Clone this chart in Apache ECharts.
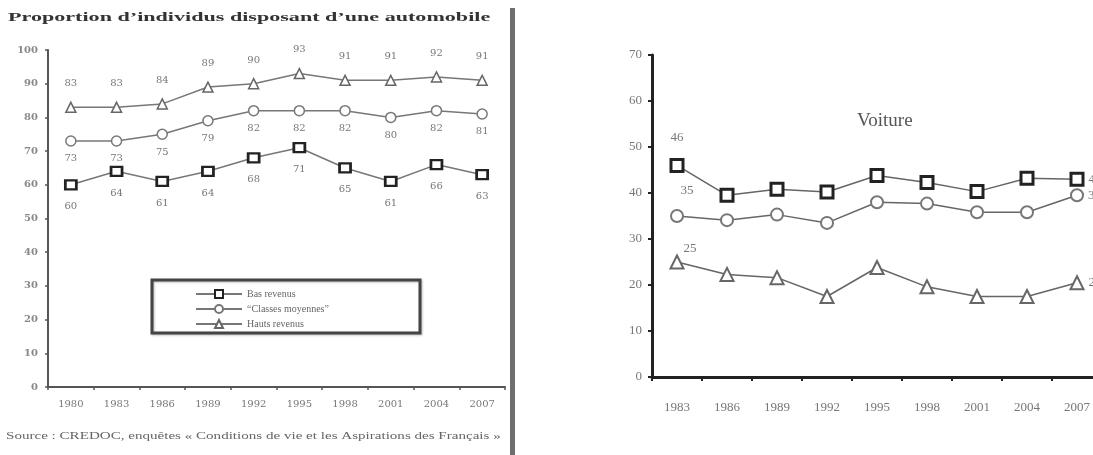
<!DOCTYPE html>
<html>
<head>
<meta charset="utf-8">
<script src="https://cdn.jsdelivr.net/npm/echarts@6/dist/echarts.min.js"></script>
<style>
  html, body { margin: 0; padding: 0; background: #fff; overflow: hidden; width: 1093px; height: 455px; }
  /* the right panel runs past the window edge, as on the printed page */
  #chart { width: 1102px; height: 455px; }
</style>
</head>
<body>
<div id="chart"></div>
<script>
// Left panel: share of individuals owning a car, by income group
const yearsLeft = ['1980', '1983', '1986', '1989', '1992', '1995', '1998', '2001', '2004', '2007'];
const basRevenus = [60, 64, 61, 64, 68, 71, 65, 61, 66, 63];
const classesMoyennes = [73, 73, 75, 79, 82, 82, 82, 80, 82, 81];
const hautsRevenus = [83, 83, 84, 89, 90, 93, 91, 91, 92, 91];
const leftTicks = { min: 0, max: 100, interval: 10 };

// Right panel: "Voiture"
const yearsRight = ['1983', '1986', '1989', '1992', '1995', '1998', '2001', '2004', '2007'];
const voitureCarres = [46, 39.5, 40.8, 40.2, 43.8, 42.3, 40.3, 43.2, 43];
const voitureCercles = [35, 34.1, 35.3, 33.5, 38, 37.7, 35.8, 35.8, 39.5];
const voitureTriangles = [25, 22.3, 21.6, 17.5, 23.8, 19.6, 17.5, 17.5, 20.5];
const rightTicks = { min: 0, max: 70, interval: 10 };

const names = ['Bas revenus', '\u201CClasses moyennes\u201D', 'Hauts revenus'];
const SERIF = '"Liberation Serif", "DejaVu Serif", serif';
const WIDE = '"DejaVu Serif", serif';

// Only the first and last points of the right panel carry a value label
function endLabels(values, firstOffset) {
  return values.map((v, i) => {
    if (i === 0) {
      return { value: v, label: { show: true, position: 'top', offset: firstOffset } };
    }
    if (i === values.length - 1) {
      return { value: v, label: { show: true, position: 'right', distance: 4 } };
    }
    return v;
  });
}

const leftLabel = (pos, dist) => ({
  show: true, position: pos, distance: dist,
  fontFamily: WIDE, fontSize: 10, color: '#777'
});
const rightLabel = { fontFamily: SERIF, fontSize: 13, color: '#777' };

const chart = echarts.init(document.getElementById('chart'));
chart.setOption({
  backgroundColor: '#fff',
  animation: false,
  grid: [
    { left: 48, top: 50, width: 457, height: 337 },
    { left: 652, top: 55, width: 450, height: 322 }
  ],
  xAxis: [
    {
      type: 'category', gridIndex: 0, data: yearsLeft, boundaryGap: true,
      axisLine: { lineStyle: { color: '#555', width: 2 } },
      axisTick: { show: true, length: 3, lineStyle: { color: '#555', width: 1.5 } },
      axisLabel: { margin: 12, fontFamily: WIDE, fontSize: 10, color: '#777' }
    },
    {
      type: 'category', gridIndex: 1, data: yearsRight, boundaryGap: true,
      axisLine: { lineStyle: { color: '#222', width: 3 } },
      axisTick: { show: true, length: 4, lineStyle: { color: '#222', width: 2 } },
      axisLabel: { margin: 24, fontFamily: SERIF, fontSize: 13, color: '#777' }
    }
  ],
  yAxis: [
    {
      type: 'value', gridIndex: 0, min: leftTicks.min, max: leftTicks.max, interval: leftTicks.interval,
      splitLine: { show: false },
      axisLine: { show: true, lineStyle: { color: '#555', width: 2 } },
      axisTick: { show: true, length: 3, lineStyle: { color: '#555', width: 1.5 } },
      axisLabel: { margin: 10, fontFamily: WIDE, fontSize: 10, fontWeight: 'bold', color: '#888' }
    },
    {
      type: 'value', gridIndex: 1, min: rightTicks.min, max: rightTicks.max, interval: rightTicks.interval,
      splitLine: { show: false },
      axisLine: { show: true, lineStyle: { color: '#222', width: 3 } },
      axisTick: { show: true, length: 4, lineStyle: { color: '#222', width: 2 } },
      axisLabel: { margin: 10, fontFamily: SERIF, fontSize: 13, color: '#777' }
    }
  ],
  legend: {
    data: names,
    orient: 'vertical',
    left: 190, top: 284,
    itemWidth: 46, itemHeight: 10, itemGap: 5,
    textStyle: { fontFamily: SERIF, fontSize: 10, color: '#666' },
    selectedMode: false
  },
  series: [
    {
      name: names[0], type: 'line', xAxisIndex: 0, yAxisIndex: 0, data: basRevenus,
      symbol: 'rect', symbolSize: [11, 9], showAllSymbol: true,
      lineStyle: { color: '#777', width: 1.5 },
      itemStyle: { color: '#fff', borderColor: '#222', borderWidth: 2.5 },
      label: leftLabel('bottom', 11)
    },
    {
      name: names[1], type: 'line', xAxisIndex: 0, yAxisIndex: 0, data: classesMoyennes,
      symbol: 'circle', symbolSize: 10, showAllSymbol: true,
      lineStyle: { color: '#777', width: 1.5 },
      itemStyle: { color: '#fff', borderColor: '#777', borderWidth: 1.5 },
      label: leftLabel('bottom', 7)
    },
    {
      name: names[2], type: 'line', xAxisIndex: 0, yAxisIndex: 0, data: hautsRevenus,
      symbol: 'triangle', symbolSize: 10, showAllSymbol: true,
      lineStyle: { color: '#777', width: 1.5 },
      itemStyle: { color: '#fff', borderColor: '#666', borderWidth: 1.5 },
      label: leftLabel('top', 13)
    },
    {
      name: 'Voiture (carrés)', type: 'line', xAxisIndex: 1, yAxisIndex: 1,
      data: endLabels(voitureCarres, [0, -9]),
      symbol: 'rect', symbolSize: 12, showAllSymbol: true,
      lineStyle: { color: '#666', width: 1.5 },
      itemStyle: { color: '#fff', borderColor: '#222', borderWidth: 3 },
      label: rightLabel
    },
    {
      name: 'Voiture (cercles)', type: 'line', xAxisIndex: 1, yAxisIndex: 1,
      data: endLabels(voitureCercles, [10, -7]),
      symbol: 'circle', symbolSize: 12, showAllSymbol: true,
      lineStyle: { color: '#666', width: 1.5 },
      itemStyle: { color: '#fff', borderColor: '#777', borderWidth: 2 },
      label: rightLabel
    },
    {
      name: 'Voiture (triangles)', type: 'line', xAxisIndex: 1, yAxisIndex: 1,
      data: endLabels(voitureTriangles, [13, 6]),
      symbol: 'triangle', symbolSize: 13, showAllSymbol: true,
      lineStyle: { color: '#666', width: 1.5 },
      itemStyle: { color: '#fff', borderColor: '#666', borderWidth: 2 },
      label: rightLabel
    }
  ],
  graphic: [
    // left panel heading
    {
      type: 'text', x: 8, y: 11, scaleX: 1.7, scaleY: 1,
      style: {
        text: 'Proportion d\u2019individus disposant d\u2019une automobile',
        font: 'bold 13px ' + SERIF, fill: '#333'
      }
    },
    // source line
    {
      type: 'text', x: 6, y: 431, scaleX: 1.37, scaleY: 1,
      style: {
        text: 'Source : CREDOC, enqu\u00EAtes \u00AB Conditions de vie et les Aspirations des Fran\u00E7ais \u00BB',
        font: '11px ' + SERIF, fill: '#666'
      }
    },
    // legend frame
    {
      type: 'rect', shape: { x: 152, y: 280, width: 268, height: 53 },
      style: { fill: 'none', stroke: '#444', lineWidth: 3, shadowBlur: 2, shadowColor: 'rgba(0,0,0,0.25)', shadowOffsetX: 1, shadowOffsetY: 1 },
      z: 10
    },
    // divider between the panels
    {
      type: 'rect', shape: { x: 510, y: 8, width: 5, height: 447 },
      style: { fill: '#6e6e6e' }
    },
    // right panel caption
    {
      type: 'text', x: 857, y: 112,
      style: { text: 'Voiture', font: '19px ' + SERIF, fill: '#555' }
    }
  ]
});
</script>
</body>
</html>
